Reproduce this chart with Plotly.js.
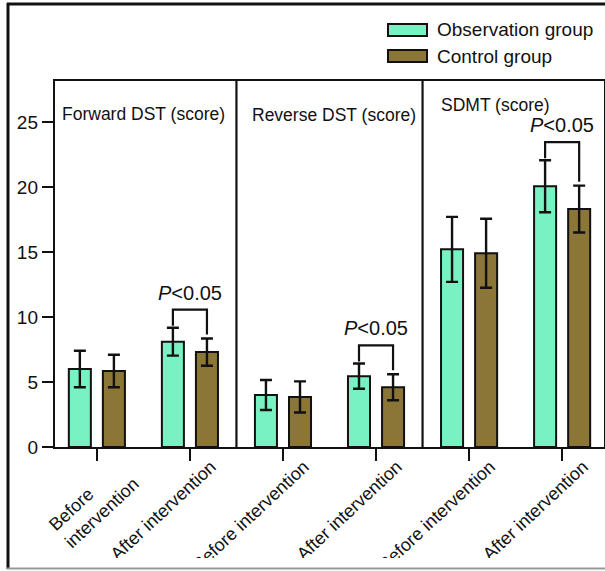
<!DOCTYPE html>
<html>
<head>
<meta charset="utf-8">
<script src="https://cdn.plot.ly/plotly-3.0.1.min.js"></script>
<style>
html,body{margin:0;padding:0;background:#fff;}
#chart{width:605px;height:571px;}
</style>
</head>
<body>
<div id="chart"></div>
<script>
// ---- data ----
var categories = ["Before&nbsp;&nbsp;&nbsp;&nbsp;&nbsp;&nbsp;&nbsp;&nbsp;<br>intervention", "After intervention", "Before intervention", "After intervention", "Before intervention", "After intervention"];
var panelTitles = ["Forward DST (score)", "Reverse DST (score)", "SDMT (score)"];
var seriesNames = ["Observation group", "Control group"];
var observationMean = [6.0, 8.1, 4.0, 5.45, 15.2, 20.05];
var observationSD   = [1.4, 1.07, 1.15, 0.97, 2.5, 2.0];
var controlMean     = [5.85, 7.3, 3.85, 4.6, 14.9, 18.3];
var controlSD       = [1.25, 1.05, 1.2, 1.0, 2.65, 1.8];
var significantIdx  = [1, 3, 5];
var pLabel = "<i>P</i>&lt;0.05";
var yTicks = [0, 5, 10, 15, 20, 25];

var xIdx = categories.map(function(_, i){ return i; });
var green = "#79F2C3", brown = "#8B7537", ink = "#111111";
var FONT = "Liberation Sans, Arial, Helvetica, sans-serif";

var bargap = 0.268, bargroupgap = 0.353;
var half = (1 - bargap) / 4; // offset of each bar centre from category centre

function barTrace(name, y, sd, color){
  return {
    type: "bar", name: name, x: xIdx, y: y,
    marker: {color: color, line: {color: ink, width: 2}},
    error_y: {type: "data", array: sd, visible: true, color: ink, thickness: 2.4, width: 6},
    showlegend: false, hoverinfo: "skip"
  };
}

var data = [
  barTrace(seriesNames[0], observationMean, observationSD, green),
  barTrace(seriesNames[1], controlMean, controlSD, brown)
];

var shapes = [];
var annotations = [];

// panel dividers
[1.5, 3.5].forEach(function(xv){
  shapes.push({type:"line", xref:"x", yref:"paper", x0:xv, x1:xv, y0:0, y1:1, line:{color:ink, width:2.2}});
});

// significance brackets
significantIdx.forEach(function(i){
  var oTop = observationMean[i] + observationSD[i];
  var cTop = controlMean[i] + controlSD[i];
  var top = Math.max(oTop, cTop) + 1.4;
  var xl = i - half, xr = i + half;
  shapes.push({type:"path", xref:"x", yref:"y",
    path: "M " + xl + "," + (oTop + 0.15) + " L " + xl + "," + top + " L " + xr + "," + top + " L " + xr + "," + (cTop + 0.3),
    line:{color:ink, width:2.2}});
  annotations.push({xref:"x", yref:"y", x:i, y:top, yanchor:"bottom", yshift:4, showarrow:false,
    text:pLabel, font:{family:FONT, size:20, color:ink}});
});

// panel titles
var titlePos = [[0.505, 0.943], [2.548, 0.940], [4.28, 0.968]];
panelTitles.forEach(function(t, k){
  annotations.push({xref:"x", yref:"paper", x:titlePos[k][0], y:titlePos[k][1], showarrow:false,
    text:t, font:{family:FONT, size:17.5, color:ink}});
});

// legend (manual)
var legRows = [[seriesNames[0], green, 30], [seriesNames[1], brown, 56]];
legRows.forEach(function(r){
  var yc = (447 - r[2]) / 366;
  var h = 6 / 366;
  shapes.push({type:"rect", xref:"paper", yref:"paper",
    x0:(388-55)/549, x1:(427-55)/549, y0:yc-h, y1:yc+h,
    fillcolor:r[1], line:{color:ink, width:2}});
  annotations.push({xref:"paper", yref:"paper", x:(435-55)/549, y:yc, xanchor:"left", yanchor:"middle",
    showarrow:false, text:r[0], font:{family:FONT, size:19, color:ink}});
});

// bottom strip where the reference crops the rotated labels
shapes.push({type:"rect", xref:"paper", yref:"paper", x0:(0-55)/549, x1:(605-55)/549, y0:(447-571)/366, y1:(447-558)/366,
  fillcolor:"#ffffff", line:{width:0}, layer:"above"});

// outer frame
shapes.push({type:"line", xref:"paper", yref:"paper", x0:(8-55)/549, x1:(8-55)/549, y0:(447-569)/366, y1:(447-3)/366, line:{color:ink, width:3}});
shapes.push({type:"line", xref:"paper", yref:"paper", x0:(7-55)/549, x1:(605-55)/549, y0:(447-4)/366, y1:(447-4)/366, line:{color:ink, width:3}});
shapes.push({type:"line", xref:"paper", yref:"paper", x0:(7-55)/549, x1:(605-55)/549, y0:(447-568.5)/366, y1:(447-568.5)/366, line:{color:"#999", width:2}});

var layout = {
  width: 605, height: 571,
  margin: {l:55, r:1, t:81, b:124, pad:0},
  paper_bgcolor: "#fff", plot_bgcolor: "#fff",
  barmode: "group", bargap: bargap, bargroupgap: bargroupgap,
  showlegend: false,
  font: {family: FONT, color: ink},
  xaxis: {
    range: [-0.45, 5.45], tickvals: xIdx, ticktext: categories, tickangle: -43,
    ticklabelshift: 21, ticklabelstandoff: -12,
    showline: true, linecolor: ink, linewidth: 2.2, mirror: true,
    ticks: "outside", ticklen: 12, tickwidth: 2.2, tickcolor: ink,
    showgrid: false, zeroline: false, fixedrange: true,
    tickfont: {family: FONT, size: 18, color: ink}
  },
  yaxis: {
    range: [0, 28.15], tickvals: yTicks,
    showline: true, linecolor: ink, linewidth: 2.2, mirror: true,
    ticks: "outside", ticklen: 11, tickwidth: 2.2, tickcolor: ink,
    showgrid: false, zeroline: false, fixedrange: true,
    tickfont: {family: FONT, size: 19, color: ink}
  },
  shapes: shapes,
  annotations: annotations
};

Plotly.newPlot("chart", data, layout, {displayModeBar: false, staticPlot: true});
</script>
</body>
</html>
